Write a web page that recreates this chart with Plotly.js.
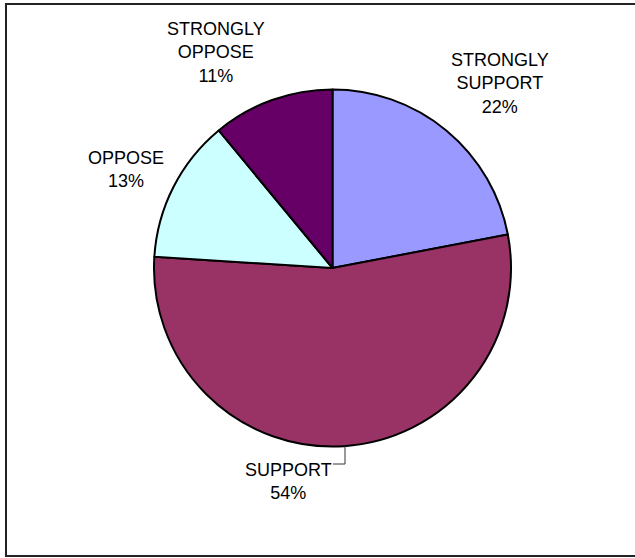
<!DOCTYPE html>
<html>
<head>
<meta charset="utf-8">
<script src="https://cdn.plot.ly/plotly-3.0.1.min.js"></script>
<style>
html,body{margin:0;padding:0;background:#fff;}
#chart{width:635px;height:558px;}
</style>
</head>
<body>
<div id="chart"></div>
<script>
// ---- data ----
const categories = ['STRONGLY SUPPORT', 'SUPPORT', 'OPPOSE', 'STRONGLY OPPOSE'];
const labelLines = ['STRONGLY<br>SUPPORT', 'SUPPORT', 'OPPOSE', 'STRONGLY<br>OPPOSE'];
const values = [22, 54, 13, 11];
const colors = ['#9999FF', '#993366', '#CCFFFF', '#660066'];

// ---- layout helpers (pixel positions of label blocks) ----
const W = 635, H = 558;
const labelPos = [[500, 84], [288, 481], [126, 169], [216, 53]];
const px = x => x / W;
const py = y => 1 - y / H;

const total = values.reduce((a, b) => a + b, 0);
const annotations = categories.map((c, i) => ({
  xref: 'paper', yref: 'paper',
  x: px(labelPos[i][0]), y: py(labelPos[i][1]),
  xanchor: 'center', yanchor: 'middle',
  text: labelLines[i] + '<br>' + Math.round(values[i] / total * 100) + '%',
  showarrow: false,
  align: 'center',
  font: {family: 'Liberation Sans, Arial, sans-serif', size: 18, color: '#000'}
}));

const data = [{
  type: 'pie',
  labels: categories,
  values: values,
  sort: false,
  direction: 'clockwise',
  rotation: 0,
  textinfo: 'none',
  hoverinfo: 'label+percent',
  marker: {colors: colors, line: {color: '#000', width: 2}},
  domain: {x: [px(154), px(511)], y: [py(447), py(89)]},
  showlegend: false
}];

const layout = {
  width: W, height: H,
  margin: {l: 0, r: 0, t: 0, b: 0},
  paper_bgcolor: '#fff',
  showlegend: false,
  annotations: annotations,
  shapes: [
    {type: 'rect', xref: 'paper', yref: 'paper',
     x0: px(6), x1: px(660), y0: py(556), y1: py(4),
     line: {color: '#222', width: 2}, fillcolor: 'rgba(0,0,0,0)'},
    {type: 'path', xref: 'paper', yref: 'paper',
     path: 'M ' + px(333) + ' ' + py(464) + ' L ' + px(345) + ' ' + py(464) + ' L ' + px(345) + ' ' + py(446),
     line: {color: '#333', width: 1}}
  ]
};

Plotly.newPlot('chart', data, layout, {staticPlot: true});
</script>
</body>
</html>
